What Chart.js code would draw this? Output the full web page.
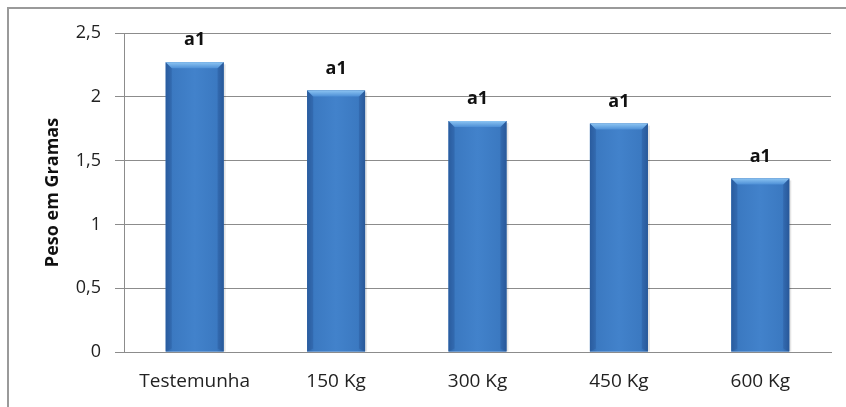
<!DOCTYPE html>
<html>
<head>
<meta charset="utf-8">
<script src="https://cdn.jsdelivr.net/npm/chart.js@4.4.1/dist/chart.umd.min.js"></script>
<style>
  html, body { margin: 0; padding: 0; background: #fff; }
  #wrap { position: relative; width: 846px; height: 407px; }
  #frame {
    position: absolute; left: 7px; top: 7px; right: 0; bottom: 0;
    border-left: 2px solid #9a9a9a; border-top: 2px solid #9a9a9a;
  }
  #chart { position: absolute; left: 0; top: 0; }
</style>
</head>
<body>
<div id="wrap">
  <div id="frame"></div>
  <canvas id="chart" width="846" height="407"></canvas>
</div>
<script>
// -------------------
// DADOS
// -------------------
const categories = ["Testemunha", "150 Kg", "300 Kg", "450 Kg", "600 Kg"];
const pesos      = [2.27, 2.05, 1.81, 1.79, 1.36];
const letras     = ["a1", "a1", "a1", "a1", "a1"];
const yTicks     = [0, 0.5, 1, 1.5, 2, 2.5];

const FONT = "'Open Sans', sans-serif";

// -------------------
// PLUGIN: efeito 3D das barras + rótulos
// -------------------
const bevelPlugin = {
  id: "bevel",
  afterDatasetsDraw(chart) {
    const ctx = chart.ctx;
    const meta = chart.getDatasetMeta(0);
    meta.data.forEach((bar, i) => {
      const { x, y, width, base } = bar.getProps(["x", "y", "width", "base"], true);
      const l = x - width / 2, r = x + width / 2;
      const h = base - y;
      const b = 6; // largura do chanfro

      ctx.save();
      // sombreado horizontal
      const g = ctx.createLinearGradient(l, 0, r, 0);
      g.addColorStop(0, "#2d63a6");
      g.addColorStop(0.12, "#3b79c1");
      g.addColorStop(0.5, "#4282cb");
      g.addColorStop(0.88, "#3b79c1");
      g.addColorStop(1, "#2b5e9f");
      ctx.fillStyle = g;
      ctx.fillRect(l, y, width, h);

      // chanfro do topo
      const gt = ctx.createLinearGradient(0, y, 0, y + b);
      gt.addColorStop(0, "#8cc4f2");
      gt.addColorStop(1, "#4d8fd6");
      ctx.fillStyle = gt;
      ctx.beginPath();
      ctx.moveTo(l, y);
      ctx.lineTo(r, y);
      ctx.lineTo(r - b, y + b);
      ctx.lineTo(l + b, y + b);
      ctx.closePath();
      ctx.fill();

      // laterais
      ctx.fillStyle = "rgba(30,70,130,0.22)";
      ctx.beginPath();
      ctx.moveTo(l, y); ctx.lineTo(l + b, y + b); ctx.lineTo(l + b, base - b / 2); ctx.lineTo(l, base);
      ctx.closePath(); ctx.fill();
      ctx.beginPath();
      ctx.moveTo(r, y); ctx.lineTo(r - b, y + b); ctx.lineTo(r - b, base - b / 2); ctx.lineTo(r, base);
      ctx.closePath(); ctx.fill();

      // sombra leve à direita
      ctx.fillStyle = "rgba(0,0,0,0.10)";
      ctx.fillRect(r, y + 2, 2, h - 2);

      // rótulo
      ctx.fillStyle = "#111";
      ctx.font = "bold 18px " + FONT;
      ctx.textAlign = "center";
      ctx.textBaseline = "middle";
      ctx.fillText(letras[i], x, y - 22);
      ctx.restore();
    });
  }
};

// -------------------
// GRÁFICO
// -------------------
const chart = new Chart(document.getElementById("chart"), {
  type: "bar",
  data: {
    labels: categories,
    datasets: [{
      data: pesos,
      backgroundColor: "#3d7cc4",
      borderWidth: 0,
      categoryPercentage: 1,
      barPercentage: 0.41
    }]
  },
  options: {
    responsive: false,
    animation: false,
    devicePixelRatio: 1,
    layout: { padding: { left: 42, right: 15, top: 33, bottom: 0 } },
    plugins: { legend: { display: false }, tooltip: { enabled: false } },
    scales: {
      x: {
        grid: { display: false, drawTicks: false },
        border: { display: true, color: "#8c8c8c", width: 1 },
        ticks: { color: "#222", font: { family: FONT, size: 19 }, padding: 18 },
        afterFit(s) { s.height = 407 - 352; }
      },
      y: {
        min: 0, max: 2.5,
        afterBuildTicks(s) { s.ticks = yTicks.map(v => ({ value: v })); },
        grid: { color: "#8c8c8c", lineWidth: 1, tickLength: 9 },
        border: { display: true, color: "#8c8c8c", width: 1 },
        ticks: {
          color: "#222", font: { family: FONT, size: 18 }, padding: 14,
          callback: v => String(v).replace(".", ",")
        },
        title: {
          display: true, text: "Peso em Gramas", color: "#111",
          font: { family: FONT, size: 18, weight: "bold" }, padding: { top: 0, bottom: 0 }
        },
        afterFit(s) { s.width = 124 - 42; }
      }
    }
  },
  plugins: [bevelPlugin]
});
</script>
</body>
</html>
